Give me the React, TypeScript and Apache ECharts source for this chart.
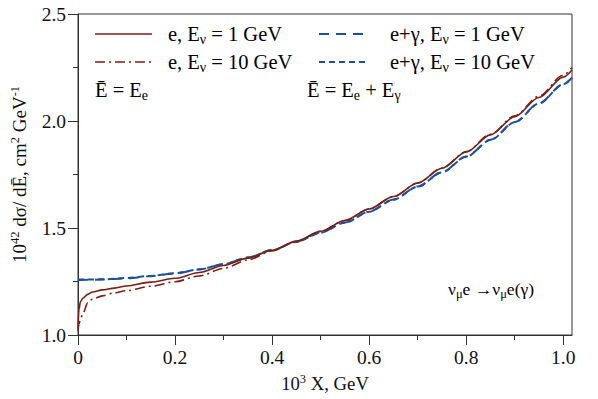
import React, { useEffect, useRef } from "react";
import * as echarts from "echarts";

const FONT = "Liberation Serif";

// x in units of 10^3 X GeV
const xE = [0, 0.002, 0.005, 0.01, 0.02, 0.03, 0.05, 0.075, 0.1, 0.15, 0.2, 0.25, 0.3, 0.35, 0.4, 0.45, 0.5, 0.55, 0.6, 0.65, 0.7, 0.75, 0.8, 0.85, 0.9, 0.95, 1.0, 1.018];
const eNu1 = [1.03, 1.12, 1.155, 1.172, 1.19, 1.201, 1.211, 1.219, 1.229, 1.247, 1.265, 1.292, 1.325, 1.359, 1.396, 1.439, 1.485, 1.535, 1.589, 1.647, 1.71, 1.779, 1.855, 1.935, 2.02, 2.11, 2.205, 2.238];
const eNu10 = [1.02, 1.05, 1.075, 1.1, 1.15, 1.168, 1.183, 1.197, 1.207, 1.228, 1.249, 1.276, 1.311, 1.351, 1.393, 1.437, 1.484, 1.535, 1.589, 1.647, 1.71, 1.78, 1.857, 1.938, 2.024, 2.116, 2.214, 2.25];

const xG = [0, 0.05, 0.1, 0.15, 0.2, 0.25, 0.3, 0.35, 0.4, 0.45, 0.5, 0.55, 0.6, 0.65, 0.7, 0.75, 0.8, 0.85, 0.9, 0.95, 1.0, 1.018];
const gNu1 = [1.257, 1.259, 1.265, 1.275, 1.288, 1.306, 1.331, 1.362, 1.397, 1.436, 1.479, 1.526, 1.577, 1.633, 1.694, 1.761, 1.834, 1.912, 1.995, 2.083, 2.172, 2.202];
const gNu10 = [1.259, 1.26, 1.266, 1.276, 1.289, 1.307, 1.331, 1.362, 1.396, 1.435, 1.478, 1.525, 1.576, 1.632, 1.693, 1.76, 1.833, 1.911, 1.994, 2.082, 2.171, 2.2];

const xMajorTicks = [0, 0.2, 0.4, 0.6, 0.8, 1.0];
const xMinorTicks = [0.1, 0.3, 0.5, 0.7, 0.9];
const xLabels = ["0", "0.2", "0.4", "0.6", "0.8", "1.0"];

const RED = "#7a1f12";
const BLUE = "#1c4f9c";
const AXIS = "#333333";

const makeRich = (size: number, small: number, shift: number) => ({
  n: { fontFamily: FONT, fontSize: size, color: "#111" },
  sub: { fontFamily: FONT, fontSize: small, color: "#111", padding: [shift, 0, 0, 0] },
  sup: { fontFamily: FONT, fontSize: small, color: "#111", padding: [0, 0, shift, 0] },
});
const legendRich = makeRich(20.5, 14, 10);
const noteRich = makeRich(17.5, 12.5, 10);
const yNameRich = makeRich(19, 12.5, 10);
const xNameRich = makeRich(18.7, 12.5, 10);

const pairs = (xs: number[], ys: number[]) => xs.map((x, i) => [x, ys[i]]);

export default function App() {
  const ref = useRef<HTMLDivElement>(null);
  useEffect(() => {
    if (!ref.current) return;
    const chart = echarts.init(ref.current, null, { renderer: "svg" });
    const legendLine = (y: number, x1: number, x2: number, color: string, dash: any, width: number) => ({
      type: "line",
      shape: { x1, y1: y, x2, y2: y },
      style: { stroke: color, lineWidth: width, lineDash: dash },
    });
    const legendText = (x: number, y: number, text: string, rich: any) => ({
      type: "text",
      x,
      y,
      style: { text, rich, verticalAlign: "middle", align: "left" },
    });
    chart.setOption({
      animation: false,
      backgroundColor: "#fff",
      grid: { left: 77, top: 14, right: 26, bottom: 64, show: true, borderColor: AXIS, borderWidth: 1 },
      xAxis: [
        {
          type: "value",
          min: 0,
          max: 1.018,
          position: "bottom",
          axisLine: { show: true, lineStyle: { color: AXIS, width: 1 } },
          axisTick: { show: true, length: 10, customValues: xMajorTicks, lineStyle: { color: AXIS } },
          axisLabel: {
            customValues: xMajorTicks,
            margin: 12,
            fontFamily: FONT,
            fontSize: 19.5,
            color: "#111",
            formatter: (v: number) => xLabels[xMajorTicks.findIndex((t) => Math.abs(t - v) < 1e-6)] ?? "",
          },
          splitLine: { show: false },
          name: "{n|10}{sup|3}{n| X, GeV}",
          nameLocation: "middle",
          nameGap: 37,
          nameTextStyle: { rich: xNameRich },
        },
        {
          type: "value",
          min: 0,
          max: 1.018,
          position: "bottom",
          axisLine: { show: false },
          axisTick: { show: true, length: 5, customValues: xMinorTicks, lineStyle: { color: AXIS } },
          axisLabel: { show: false },
          splitLine: { show: false },
        },
      ],
      yAxis: {
        type: "value",
        min: 1,
        max: 2.5,
        interval: 0.5,
        axisLine: { show: true, lineStyle: { color: AXIS, width: 1 } },
        axisTick: { show: true, length: 10, lineStyle: { color: AXIS } },
        minorTick: { show: true, splitNumber: 2, length: 5, lineStyle: { color: AXIS } },
        axisLabel: {
          margin: 12,
          fontFamily: FONT,
          fontSize: 19.5,
          color: "#111",
          formatter: (v: number) => v.toFixed(1),
        },
        splitLine: { show: false },
        name: "{n|10}{sup|42}{n| dσ/ dĒ, cm}{sup|2}{n| GeV}{sup|-1}",
        nameLocation: "middle",
        nameRotate: 90,
        nameGap: 47,
        nameTextStyle: { rich: yNameRich },
      },
      graphic: [
        legendLine(34, 95, 152, RED, null, 1.6),
        legendText(168, 34, "{n|e, E}{sub|ν}{n| = 1 GeV}", legendRich),
        legendLine(62, 95, 152, RED, [10, 4, 2, 4], 1.6),
        legendText(168, 62, "{n|e, E}{sub|ν}{n| = 10 GeV}", legendRich),
        legendText(95, 90, "{n|Ē = E}{sub|e}", legendRich),
        legendLine(34, 319, 367, BLUE, [10, 7], 2),
        legendText(390, 34, "{n|e+γ, E}{sub|ν}{n| = 1 GeV}", legendRich),
        legendLine(62, 319, 367, BLUE, [6, 4], 2),
        legendText(390, 62, "{n|e+γ, E}{sub|ν}{n| = 10 GeV}", legendRich),
        legendText(307, 90, "{n|Ē = E}{sub|e}{n| + E}{sub|γ}", legendRich),
        legendText(448, 289, "{n|ν}{sub|μ}{n|e →ν}{sub|μ}{n|e(γ)}", noteRich),
      ],
      series: [
        {
          name: "e, Eν = 1 GeV",
          type: "line",
          data: pairs(xE, eNu1),
          showSymbol: false,
          smooth: 0.3,
          smoothMonotone: "x",
          lineStyle: { color: RED, width: 1.6, type: "solid" },
          z: 3,
        },
        {
          name: "e, Eν = 10 GeV",
          type: "line",
          data: pairs(xE, eNu10),
          showSymbol: false,
          smooth: 0.3,
          smoothMonotone: "x",
          lineStyle: { color: RED, width: 1.6, type: [10, 4, 2, 4] },
          z: 3,
        },
        {
          name: "e+γ, Eν = 1 GeV",
          type: "line",
          data: pairs(xG, gNu1),
          showSymbol: false,
          smooth: 0.3,
          smoothMonotone: "x",
          lineStyle: { color: BLUE, width: 2, type: [10, 7] },
          z: 2,
        },
        {
          name: "e+γ, Eν = 10 GeV",
          type: "line",
          data: pairs(xG, gNu10),
          showSymbol: false,
          smooth: 0.3,
          smoothMonotone: "x",
          lineStyle: { color: BLUE, width: 2, type: [6, 4] },
          z: 2,
        },
      ],
    });
    return () => chart.dispose();
  }, []);
  return <div ref={ref} style={{ width: 598, height: 399, position: "absolute", left: 0, top: 0 }} />;
}
